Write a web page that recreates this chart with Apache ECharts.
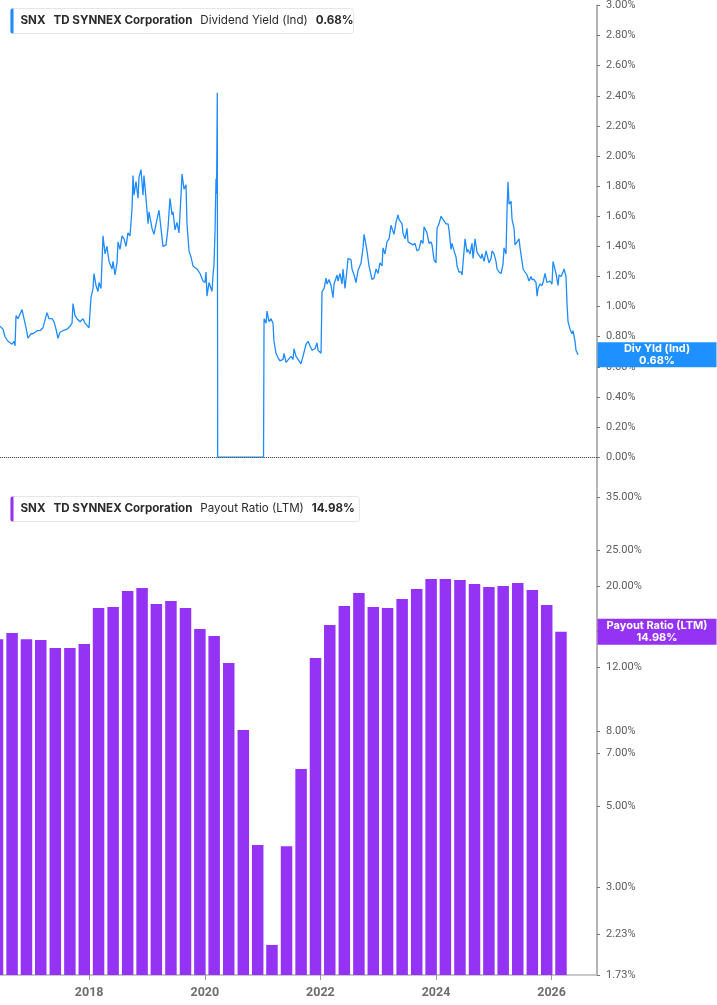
<!DOCTYPE html>
<html>
<head>
<meta charset="utf-8">
<title>SNX Dividend Yield / Payout Ratio</title>
<script src="https://cdn.jsdelivr.net/npm/echarts@6/dist/echarts.min.js"></script>
<style>
  html, body { margin: 0; padding: 0; background: #fff; }
  #main { width: 717px; height: 1005px; }
</style>
</head>
<body>
<div id="main"></div>
<script>
// Dividend Yield (Ind), % -- x as decimal years
var yieldYears = [
  2016.457, 2016.509, 2016.544, 2016.595, 2016.665, 2016.699, 2016.717, 2016.734, 2016.768, 2016.803,
  2016.838, 2016.872, 2016.907, 2016.941, 2016.993, 2017.028, 2017.097, 2017.149, 2017.201, 2017.218,
  2017.270, 2017.305, 2017.357, 2017.391, 2017.426, 2017.460, 2017.495, 2017.547, 2017.616, 2017.668,
  2017.703, 2017.720, 2017.755, 2017.789, 2017.841, 2017.893, 2017.928, 2017.962, 2017.997, 2018.031,
  2018.066, 2018.083, 2018.118, 2018.152, 2018.170, 2018.204, 2018.222, 2018.239, 2018.274, 2018.308,
  2018.343, 2018.395, 2018.412, 2018.447, 2018.481, 2018.499, 2018.533, 2018.568, 2018.602, 2018.637,
  2018.671, 2018.706, 2018.741, 2018.758, 2018.775, 2018.810, 2018.845, 2018.862, 2018.896, 2018.931,
  2018.948, 2018.983, 2019.018, 2019.035, 2019.087, 2019.121, 2019.173, 2019.208, 2019.242, 2019.277,
  2019.329, 2019.363, 2019.398, 2019.433, 2019.450, 2019.485, 2019.519, 2019.554, 2019.588, 2019.606,
  2019.640, 2019.675, 2019.692, 2019.727, 2019.761, 2019.796, 2019.865, 2019.917, 2019.969, 2020.004,
  2020.021, 2020.038, 2020.073, 2020.108, 2020.125, 2020.142, 2020.159, 2020.177, 2020.194, 2020.203,
  2020.211, 2020.216, 2020.223, 2021.016, 2021.025, 2021.059, 2021.076, 2021.111, 2021.146, 2021.180,
  2021.197, 2021.232, 2021.267, 2021.301, 2021.353, 2021.370, 2021.405, 2021.439, 2021.491, 2021.526,
  2021.543, 2021.578, 2021.613, 2021.664, 2021.699, 2021.751, 2021.786, 2021.820, 2021.855, 2021.907,
  2021.941, 2021.959, 2022.011, 2022.028, 2022.063, 2022.097, 2022.115, 2022.149, 2022.184, 2022.218,
  2022.236, 2022.288, 2022.305, 2022.339, 2022.374, 2022.391, 2022.426, 2022.461, 2022.478, 2022.530,
  2022.547, 2022.582, 2022.616, 2022.651, 2022.703, 2022.737, 2022.755, 2022.789, 2022.806, 2022.841,
  2022.893, 2022.928, 2022.962, 2022.997, 2023.031, 2023.066, 2023.083, 2023.118, 2023.152, 2023.187,
  2023.222, 2023.256, 2023.273, 2023.308, 2023.343, 2023.360, 2023.377, 2023.412, 2023.429, 2023.464,
  2023.498, 2023.516, 2023.550, 2023.602, 2023.637, 2023.671, 2023.706, 2023.741, 2023.775, 2023.793,
  2023.827, 2023.844, 2023.879, 2023.914, 2023.931, 2023.966, 2024.000, 2024.018, 2024.052, 2024.087,
  2024.121, 2024.139, 2024.173, 2024.208, 2024.225, 2024.260, 2024.277, 2024.312, 2024.346, 2024.364,
  2024.398, 2024.433, 2024.450, 2024.485, 2024.502, 2024.537, 2024.554, 2024.589, 2024.623, 2024.641,
  2024.675, 2024.710, 2024.744, 2024.779, 2024.796, 2024.831, 2024.865, 2024.883, 2024.917, 2024.952,
  2024.969, 2025.004, 2025.038, 2025.056, 2025.090, 2025.125, 2025.159, 2025.177, 2025.211, 2025.229,
  2025.246, 2025.263, 2025.298, 2025.315, 2025.350, 2025.367, 2025.402, 2025.436, 2025.454, 2025.488,
  2025.506, 2025.540, 2025.575, 2025.609, 2025.644, 2025.661, 2025.696, 2025.730, 2025.748, 2025.765,
  2025.799, 2025.834, 2025.851, 2025.886, 2025.920, 2025.938, 2025.972, 2026.007, 2026.024, 2026.042,
  2026.076, 2026.111, 2026.128, 2026.163, 2026.197, 2026.215, 2026.249, 2026.266, 2026.284, 2026.318,
  2026.353, 2026.370, 2026.405, 2026.422, 2026.440, 2026.457
];
var yieldValues = [
  0.87, 0.85, 0.80, 0.77, 0.75, 0.77, 0.74, 0.94, 0.92, 0.95,
  0.98, 0.92, 0.86, 0.79, 0.82, 0.82, 0.84, 0.84, 0.86, 0.87,
  0.96, 0.92, 0.92, 0.90, 0.85, 0.79, 0.83, 0.84, 0.85, 0.87,
  0.89, 1.02, 0.94, 0.92, 0.90, 0.92, 0.89, 0.90, 0.86, 1.06,
  1.12, 1.22, 1.14, 1.10, 1.16, 1.12, 1.30, 1.47, 1.35, 1.40,
  1.30, 1.25, 1.30, 1.21, 1.29, 1.43, 1.38, 1.47, 1.45, 1.40,
  1.49, 1.47, 1.65, 1.87, 1.74, 1.83, 1.72, 1.86, 1.91, 1.74,
  1.87, 1.72, 1.55, 1.63, 1.52, 1.48, 1.58, 1.64, 1.52, 1.40,
  1.41, 1.52, 1.72, 1.61, 1.63, 1.51, 1.56, 1.49, 1.74, 1.88,
  1.78, 1.81, 1.55, 1.37, 1.33, 1.27, 1.25, 1.22, 1.17, 1.16,
  1.23, 1.07, 1.16, 1.12, 1.10, 1.21, 1.28, 1.50, 1.85, 1.75,
  2.14, 2.42, 0.00, 0.00, 0.92, 0.89, 0.97, 0.90, 0.92, 0.89,
  0.77, 0.69, 0.66, 0.64, 0.65, 0.69, 0.63, 0.62, 0.67, 0.65,
  0.72, 0.67, 0.65, 0.62, 0.67, 0.75, 0.77, 0.74, 0.71, 0.72,
  0.76, 0.71, 0.69, 1.10, 1.12, 1.19, 1.15, 1.18, 1.14, 1.06,
  1.15, 1.21, 1.17, 1.22, 1.15, 1.25, 1.12, 1.25, 1.32, 1.31,
  1.25, 1.21, 1.16, 1.24, 1.29, 1.39, 1.48, 1.41, 1.37, 1.27,
  1.18, 1.19, 1.25, 1.22, 1.29, 1.27, 1.39, 1.35, 1.43, 1.45,
  1.54, 1.50, 1.48, 1.56, 1.61, 1.58, 1.58, 1.55, 1.49, 1.45,
  1.52, 1.43, 1.44, 1.41, 1.42, 1.37, 1.38, 1.44, 1.42, 1.53,
  1.54, 1.49, 1.42, 1.43, 1.41, 1.31, 1.29, 1.52, 1.55, 1.60,
  1.60, 1.57, 1.55, 1.55, 1.51, 1.38, 1.42, 1.37, 1.33, 1.27,
  1.23, 1.23, 1.21, 1.37, 1.45, 1.36, 1.38, 1.35, 1.42, 1.32,
  1.45, 1.36, 1.35, 1.32, 1.35, 1.30, 1.37, 1.38, 1.29, 1.32,
  1.37, 1.35, 1.30, 1.25, 1.23, 1.22, 1.28, 1.39, 1.35, 1.65,
  1.83, 1.68, 1.70, 1.58, 1.52, 1.41, 1.43, 1.45, 1.39, 1.30,
  1.25, 1.23, 1.21, 1.17, 1.20, 1.18, 1.18, 1.16, 1.07, 1.12,
  1.15, 1.14, 1.16, 1.22, 1.16, 1.15, 1.17, 1.15, 1.30, 1.30,
  1.22, 1.14, 1.21, 1.20, 1.23, 1.25, 1.20, 1.02, 0.90, 0.85,
  0.82, 0.84, 0.77, 0.71, 0.72, 0.68
];

// Payout Ratio (LTM), % -- fiscal quarter ends (Feb/May/Aug/Nov) as decimal years
var payoutYears = [
  2016.414, 2016.666, 2016.915, 2017.162, 2017.414, 2017.666, 2017.915, 2018.162, 2018.414, 2018.666,
  2018.915, 2019.162, 2019.414, 2019.666, 2019.915, 2020.162, 2020.414, 2020.666, 2020.915, 2021.162,
  2021.414, 2021.666, 2021.915, 2022.162, 2022.414, 2022.666, 2022.915, 2023.162, 2023.414, 2023.666,
  2023.915, 2024.162, 2024.414, 2024.666, 2024.915, 2025.162, 2025.414, 2025.666, 2025.915, 2026.162
];
var payoutValues = [
  14.30, 14.87, 14.30, 14.23, 13.53, 13.53, 13.88, 17.40, 17.52, 19.38,
  19.74, 17.85, 18.19, 17.40, 15.26, 14.60, 12.31, 8.08, 3.92, 2.09,
  3.89, 6.32, 12.71, 15.64, 17.63, 19.13, 17.52, 17.40, 18.42, 19.61,
  20.89, 20.89, 20.76, 20.24, 19.87, 19.99, 20.37, 19.49, 17.74, 14.98
];

var yearTicks = [2018, 2020, 2022, 2024, 2026];
var yieldTicks = [0, 0.2, 0.4, 0.6, 0.8, 1.0, 1.2, 1.4, 1.6, 1.8, 2.0, 2.2, 2.4, 2.6, 2.8, 3.0];
var payoutTicks = [1.73, 2.23, 3, 5, 7, 8, 12, 15, 20, 25, 35];

var xMin = 2016.457, xMax = 2026.785;
var blue = '#1e8cff', purple = '#9533f5';

var lastYield = yieldValues[yieldValues.length - 1];
var lastPayout = payoutValues[payoutValues.length - 1];

var yieldData = yieldYears.map(function (y, i) { return [y, yieldValues[i]]; });
var payoutData = payoutYears.map(function (y, i) { return [y, payoutValues[i]]; });

function pct(v) { return v.toFixed(2) + '%'; }

function legendBox(top, width, color, metric, value) {
  return {
    type: 'group',
    left: 10,
    top: top,
    children: [
      { type: 'rect', shape: { x: 0, y: 0, width: width, height: 25, r: 3 },
        style: { fill: '#fff', stroke: '#e6e6e6', lineWidth: 1 } },
      { type: 'rect', shape: { x: 0, y: 0, width: 3, height: 25, r: [2, 0, 0, 2] },
        style: { fill: color } },
      { type: 'text', x: 10, y: 12.5,
        style: {
          text: '{b|SNX}{g|}{b|TD SYNNEX Corporation}{g|}{n|' + metric + '}{g|}{b|' + value + '}',
          verticalAlign: 'middle',
          rich: {
            b: { fontFamily: 'Inter', fontSize: 11.6, fontWeight: 'bold', fill: '#2b2b2b' },
            n: { fontFamily: 'Inter', fontSize: 11.6, fill: '#2b2b2b' },
            g: { width: 8 }
          }
        } }
    ]
  };
}

var axisLabelStyle = { color: '#5c5c5c', fontFamily: 'Roboto', fontSize: 11, margin: 9 };

var chart = echarts.init(document.getElementById('main'));
chart.setOption({
  animation: false,
  backgroundColor: '#fff',
  grid: [
    { left: 0, right: 120, top: 2.5, height: 484.8 },
    { left: 0, right: 120, top: 489, bottom: 30 }
  ],
  xAxis: [
    {
      gridIndex: 0, type: 'value', min: xMin, max: xMax,
      axisLine: { show: true, lineStyle: { color: '#dcdcdc', width: 1 } },
      axisTick: { show: false }, axisLabel: { show: false }, splitLine: { show: false }
    },
    {
      gridIndex: 1, type: 'value', min: xMin, max: xMax,
      axisLine: { show: true, lineStyle: { color: '#b8b8b8', width: 1.5 } },
      axisTick: { show: true, customValues: yearTicks, length: 5, lineStyle: { color: '#9a9a9a' } },
      axisLabel: {
        customValues: yearTicks, margin: 11,
        color: '#6e6e6e', fontFamily: 'Roboto', fontSize: 12.5, fontWeight: 'bold',
        formatter: function (v) { return String(Math.round(v)); }
      },
      splitLine: { show: false }
    }
  ],
  yAxis: [
    {
      gridIndex: 0, type: 'value', position: 'right', min: -0.2, max: 3.0,
      axisLine: { show: true, lineStyle: { color: '#b4b4b4', width: 2 } },
      axisTick: { show: true, customValues: yieldTicks, length: 3, lineStyle: { color: '#777' } },
      axisLabel: Object.assign({ customValues: yieldTicks, formatter: pct }, axisLabelStyle),
      splitLine: { show: false }
    },
    {
      gridIndex: 1, type: 'log', position: 'right', min: 1.73, max: 36.8,
      axisLine: { show: true, lineStyle: { color: '#b4b4b4', width: 2 } },
      axisTick: { show: true, customValues: payoutTicks, length: 3, lineStyle: { color: '#777' } },
      axisLabel: Object.assign({ customValues: payoutTicks, formatter: pct }, axisLabelStyle),
      splitLine: { show: false }
    }
  ],
  series: [
    {
      name: 'Dividend Yield (Ind)',
      type: 'line',
      xAxisIndex: 0, yAxisIndex: 0,
      data: yieldData,
      showSymbol: false,
      lineStyle: { color: blue, width: 1.3 },
      z: 3,
      markLine: {
        silent: true, symbol: 'none', label: { show: false },
        lineStyle: { color: '#555', type: 'dotted', width: 1 },
        data: [{ yAxis: 0 }]
      },
      markPoint: {
        silent: true,
        symbol: 'rect', symbolSize: [119, 25], symbolOffset: [60, 0],
        itemStyle: { color: '#1e90ff' },
        label: {
          show: true, position: 'inside', color: '#fff',
          fontFamily: 'Inter', fontSize: 11, fontWeight: 'bold', lineHeight: 12,
          formatter: 'Div Yld (Ind)\n' + pct(lastYield)
        },
        data: [{ coord: [xMax, lastYield] }]
      }
    },
    {
      name: 'Payout Ratio (LTM)',
      type: 'bar',
      xAxisIndex: 1, yAxisIndex: 1,
      data: payoutData,
      barWidth: 11.5,
      itemStyle: { color: purple },
      markPoint: {
        silent: true,
        symbol: 'rect', symbolSize: [119, 26], symbolOffset: [60, 0],
        itemStyle: { color: purple },
        label: {
          show: true, position: 'inside', color: '#fff',
          fontFamily: 'Inter', fontSize: 11, fontWeight: 'bold', lineHeight: 12,
          formatter: 'Payout Ratio (LTM)\n' + pct(lastPayout)
        },
        data: [{ coord: [xMax, lastPayout] }]
      }
    }
  ],
  graphic: [
    legendBox(8, 343, blue, 'Dividend Yield (Ind)', pct(lastYield)),
    legendBox(496, 349, purple, 'Payout Ratio (LTM)', pct(lastPayout))
  ]
});
</script>
</body>
</html>
